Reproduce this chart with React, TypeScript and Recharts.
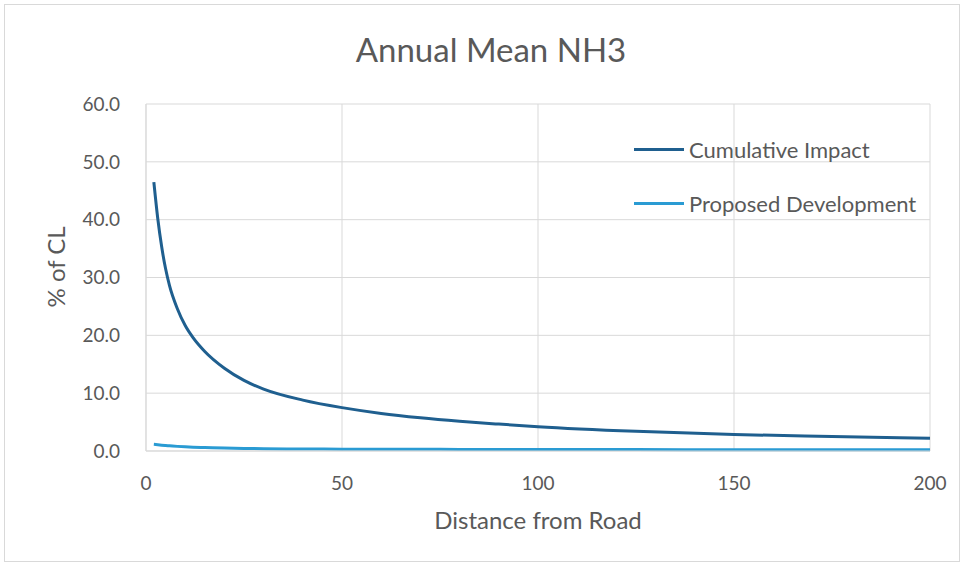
import { LineChart, Line, XAxis, YAxis, CartesianGrid } from 'recharts'

const distances = [2, 3, 4, 5, 6, 8, 10, 12, 15, 20, 25, 30, 40, 50, 60, 70, 80, 90, 100, 125, 150, 175, 200]
const cumulativeImpact = [46.5, 40.2, 35.3, 31.5, 28.6, 24.6, 21.7, 19.6, 17.2, 14.3, 12.2, 10.7, 8.8, 7.5, 6.5, 5.75, 5.15, 4.65, 4.2, 3.4, 2.85, 2.5, 2.2]
const proposedDevelopment = [1.15, 1.08, 1.01, 0.95, 0.9, 0.8, 0.72, 0.66, 0.6, 0.5, 0.45, 0.4, 0.35, 0.32, 0.3, 0.29, 0.28, 0.27, 0.26, 0.245, 0.23, 0.22, 0.21]
const xTicks = [0, 50, 100, 150, 200]
const yTicks = [0, 10, 20, 30, 40, 50, 60]

const data = distances.map((d, i) => ({
  distance: d,
  cumulative: cumulativeImpact[i],
  proposed: proposedDevelopment[i],
}))

const FONT = 'Lato, "Open Sans", sans-serif'
const TEXT = '#595959'
const DARK = '#1f5f8f'
const LIGHT = '#2a9bd3'

function LegendBox() {
  const items = [
    { label: 'Cumulative Impact', color: DARK },
    { label: 'Proposed Development', color: LIGHT },
  ]
  return (
    <div style={{ position: 'absolute', left: 634, top: 122, fontFamily: FONT, fontSize: 22, color: TEXT }}>
      {items.map(it => (
        <div key={it.label} style={{ display: 'flex', alignItems: 'center', height: 54 }}>
          <span style={{ display: 'inline-block', width: 50, height: 3, background: it.color, marginRight: 5 }} />
          <span>{it.label}</span>
        </div>
      ))}
    </div>
  )
}

export default function App() {
  return (
    <div style={{ position: 'absolute', left: 0, top: 0, width: 966, height: 568, background: '#fff' }}>
      <div style={{ position: 'absolute', left: 4, top: 4, width: 956, height: 558, border: '1px solid #d9d9d9', boxSizing: 'border-box' }} />
      <div style={{ position: 'absolute', left: 0, top: 29, width: 982, textAlign: 'center', fontFamily: FONT, fontSize: 33, color: TEXT }}>
        Annual Mean NH3
      </div>
      <LineChart width={966} height={568} data={data} margin={{ top: 104, right: 36, left: 36, bottom: 77 }}>
        <CartesianGrid stroke="#d9d9d9" horizontal vertical />
        <XAxis
          dataKey="distance"
          type="number"
          domain={[0, 200]}
          ticks={xTicks}
          height={40}
          tick={{ fontSize: 19, fill: TEXT, fontFamily: FONT }}
          tickLine={false}
          axisLine={{ stroke: '#d9d9d9' }}
          tickMargin={20}
          label={{ value: 'Distance from Road', position: 'insideBottom', offset: -38, fontSize: 24, fill: TEXT, fontFamily: FONT }}
        />
        <YAxis
          domain={[0, 60]}
          ticks={yTicks}
          width={110}
          tick={{ fontSize: 19, fill: TEXT, fontFamily: FONT }}
          tickFormatter={v => v.toFixed(1)}
          tickLine={false}
          axisLine={{ stroke: '#d9d9d9' }}
          tickMargin={20}
          label={{ value: '% of CL', angle: -90, position: 'insideLeft', offset: 20, dy: 30, fontSize: 24, fill: TEXT, fontFamily: FONT }}
        />
        <Line
          dataKey="cumulative"
          type="monotone"
          stroke={DARK}
          strokeWidth={3}
          dot={false}
          isAnimationActive={false}
        />
        <Line
          dataKey="proposed"
          type="monotone"
          stroke={LIGHT}
          strokeWidth={3}
          dot={false}
          isAnimationActive={false}
        />
      </LineChart>
      <LegendBox />
    </div>
  )
}
